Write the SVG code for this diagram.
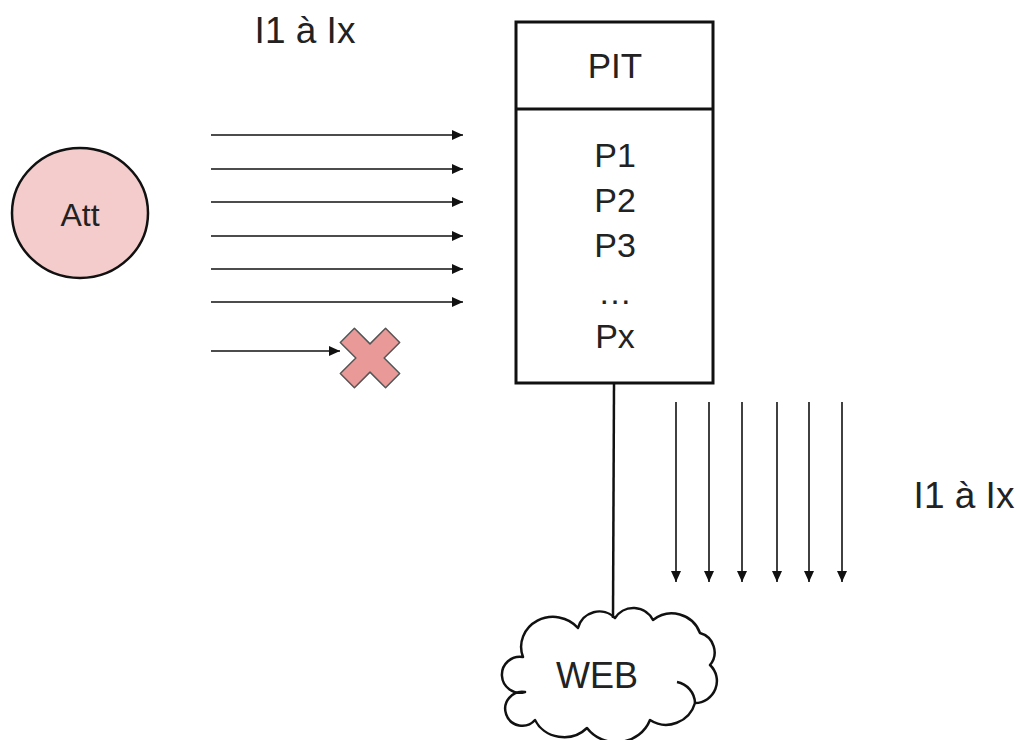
<svg xmlns="http://www.w3.org/2000/svg" width="1020" height="740" viewBox="0 0 1020 740">
<style>
text{font-family:"Liberation Sans",Arial,sans-serif;fill:#222;}
.arr{stroke:#111;stroke-width:1.6;fill:none;marker-end:url(#ah);}
.big{font-size:34px;}
.lbl{font-size:37px;}
</style>
<defs>
<marker id="ah" markerUnits="userSpaceOnUse" markerWidth="12" markerHeight="11" refX="11" refY="5.5" orient="auto">
<path d="M0,0.5 L11,5.5 L0,10.5 Z" fill="#111"/>
</marker>
</defs>
<rect width="1020" height="740" fill="#fff"/>
<text x="305" y="43" class="lbl" text-anchor="middle">I1 à Ix</text>
<text x="964" y="508" class="lbl" text-anchor="middle">I1 à Ix</text>
<g id="att">
<ellipse cx="80" cy="213" rx="68" ry="65" fill="#f4cccc" stroke="#111" stroke-width="2.5"/>
<text x="80" y="226" font-size="32" text-anchor="middle">Att</text>
</g>
<g id="pit">
<rect x="516" y="22" width="197" height="361" fill="#fff" stroke="#111" stroke-width="3"/>
<line x1="516" y1="109" x2="713" y2="109" stroke="#111" stroke-width="3"/>
<text x="615" y="78" font-size="35" text-anchor="middle">PIT</text>
<text x="615" y="167" class="big" text-anchor="middle">P1</text>
<text x="615" y="212" class="big" text-anchor="middle">P2</text>
<text x="615" y="257" class="big" text-anchor="middle">P3</text>
<text x="615" y="304" class="big" text-anchor="middle">…</text>
<text x="615" y="348" class="big" text-anchor="middle">Px</text>
</g>
<g id="block">
<polygon transform="translate(370,358) rotate(45)" points="-10,-32 10,-32 10,-10 32,-10 32,10 10,10 10,32 -10,32 -10,10 -32,10 -32,-10 -10,-10" fill="#ea9999" stroke="#555" stroke-width="1.5" stroke-linejoin="round"/>
</g>
<g id="web">
<path d="M523,657 A32,30 0 0 1 578,628 A22,22 0 0 1 615,618 A22,22 0 0 1 653,620 A30,30 0 0 1 700,633 A20,20 0 0 1 710,665 A22,22 0 0 1 695,703 A30,30 0 0 1 650,720 A36,34 0 0 1 587,728 A32,30 0 0 1 535,720 A17,17 0 1 1 525,692 A18,18 0 1 1 523,657 Z" fill="#fff" stroke="#111" stroke-width="2.5" stroke-linejoin="round"/>
<path d="M677,682 A22,22 0 0 1 695,703" fill="none" stroke="#111" stroke-width="2.5"/>
<text x="597" y="688" font-size="36" text-anchor="middle">WEB</text>
</g>
<g id="connectors">
<line class="arr" x1="211" y1="135" x2="463" y2="135"/>
<line class="arr" x1="211" y1="169" x2="463" y2="169"/>
<line class="arr" x1="211" y1="202" x2="463" y2="202"/>
<line class="arr" x1="211" y1="236" x2="463" y2="236"/>
<line class="arr" x1="211" y1="269" x2="463" y2="269"/>
<line class="arr" x1="211" y1="302" x2="463" y2="302"/>
<line class="arr" x1="211" y1="351" x2="340" y2="351"/>
<line x1="614" y1="383" x2="613" y2="618" stroke="#111" stroke-width="2.5"/>
<line class="arr" x1="676" y1="402" x2="676" y2="582"/>
<line class="arr" x1="709" y1="402" x2="709" y2="582"/>
<line class="arr" x1="742" y1="402" x2="742" y2="582"/>
<line class="arr" x1="777" y1="402" x2="777" y2="582"/>
<line class="arr" x1="809" y1="402" x2="809" y2="582"/>
<line class="arr" x1="842" y1="402" x2="842" y2="582"/>
</g>
</svg>
